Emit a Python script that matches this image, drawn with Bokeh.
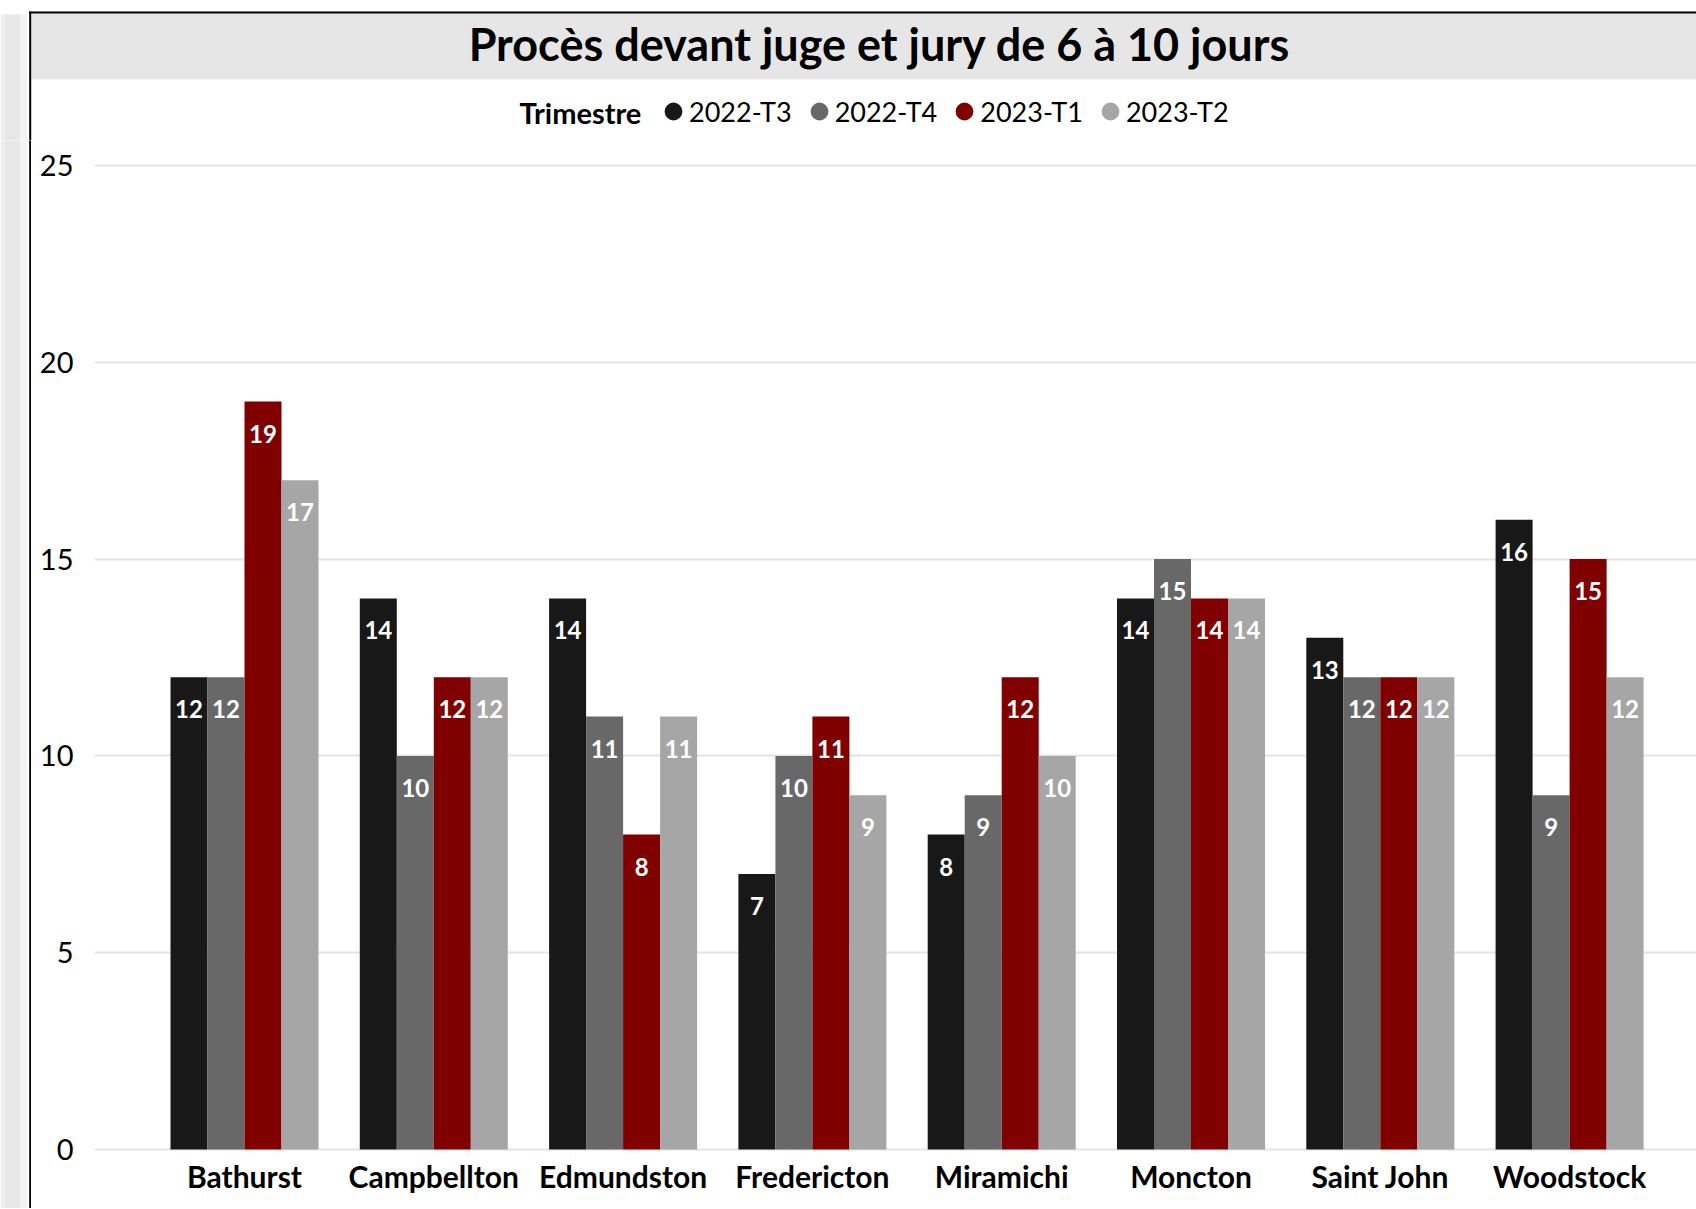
from bokeh.plotting import figure
from bokeh.layouts import column, row
from bokeh.models import (ColumnDataSource, Range1d, FixedTicker, Legend, LegendItem, Label)
from bokeh.transform import dodge
from bokeh.core.properties import value
from bokeh.embed import file_html
from bokeh.resources import INLINE

# ---------------- data ----------------
chart_title = "Procès devant juge et jury de 6 à 10 jours"
legend_title = "Trimestre"
cities = ["Bathurst", "Campbellton", "Edmundston", "Fredericton",
          "Miramichi", "Moncton", "Saint John", "Woodstock"]
series = ["2022-T3", "2022-T4", "2023-T1", "2023-T2"]
v_2022_t3 = [12, 14, 14, 7, 8, 14, 13, 16]
v_2022_t4 = [12, 10, 11, 10, 9, 15, 12, 9]
v_2023_t1 = [19, 12, 8, 11, 12, 14, 12, 15]
v_2023_t2 = [17, 12, 11, 9, 10, 14, 12, 12]
y_ticks = [0, 5, 10, 15, 20, 25]

# ---------------- style / layout ----------------
colors = ["#181818", "#686868", "#800000", "#a6a6a6"]
FONT = "Lato"
W, H = 1696, 1208
HH = 140                 # header height
LW = 31                  # left decoration strip width
MW, MH = W - LW, H - HH  # main chart size
FRAME_LEFT = 94          # page x of plot frame left
CAT_PX = 189.3
FIRST_CENTER = 244.0
BAR_W = 37.0 / CAT_PX
STRIP = [(0, 4, "#eeeeee"), (4, 20, "#e7e7e7"), (20, 26.5, "#f3f3f3")]


def deco_figure(w, h):
    f = figure(width=w, height=h, output_backend="svg", toolbar_location=None,
               x_range=Range1d(0, w), y_range=Range1d(h, 0),
               x_axis_location=None, y_axis_location=None,
               min_border=0, min_border_left=0, min_border_right=0,
               min_border_top=0, min_border_bottom=0)
    f.grid.visible = False
    f.outline_line_color = None
    f.background_fill_color = "white"
    f.border_fill_color = "white"
    f.frame_align = False
    return f


# ---------- header: title band, border, legend ----------
hdr = deco_figure(W, HH)
for l, r, c in STRIP:
    hdr.quad(left=l, right=r, top=14, bottom=HH + 1, fill_color=c, line_color=None)
hdr.quad(left=30.7, right=W, top=13, bottom=78.7, fill_color="#e6e6e6", line_color=None)
hdr.quad(left=28.7, right=W, top=11, bottom=13, fill_color="black", line_color=None)
hdr.quad(left=28.7, right=30.7, top=11, bottom=HH + 1, fill_color="black", line_color=None)

hdr.add_layout(Label(x=879, y=43.5, text=chart_title, text_align="center",
                     text_baseline="middle", text_font=FONT, text_font_size="45px",
                     text_font_style="bold", text_color="#000000"))
hdr.add_layout(Label(x=519, y=111.7, text=legend_title, text_align="left",
                     text_baseline="middle", text_font=FONT, text_font_size="29px",
                     text_font_style="bold", text_color="#000000"))

items = []
for i, s in enumerate(series):
    # a single off-canvas point so that the legend glyph has a colour
    r = hdr.scatter(x=[-500], y=[-500], marker="circle", fill_color=colors[i],
                    line_color=colors[i], line_width=5, size=18)
    items.append(LegendItem(label=s, renderers=[r]))
GLYPH = 32
legend = Legend(items=items, orientation="horizontal",
                location=(673 - GLYPH / 2, HH - 111.7 - GLYPH / 2),
                glyph_width=GLYPH, glyph_height=GLYPH, label_standoff=0,
                spacing=11, padding=0, margin=0,
                label_text_font=FONT, label_text_font_size="27px",
                label_text_color="#000000", label_text_baseline="middle",
                border_line_color=None, background_fill_alpha=0)
hdr.add_layout(legend)

# ---------- left decoration strip ----------
left = deco_figure(LW, MH)
for l, r, c in STRIP:
    left.quad(left=l, right=r, top=-1, bottom=MH, fill_color=c, line_color=None)
left.quad(left=28.7, right=30.7, top=-1, bottom=MH, fill_color="black", line_color=None)

# ---------- main chart ----------
all_values = [v_2022_t3, v_2022_t4, v_2023_t1, v_2023_t2]
positions = list(range(len(cities)))
data = {"x": positions}
for i, vals in enumerate(all_values):
    data[f"v{i}"] = vals
    data[f"l{i}"] = [str(v) for v in vals]
source = ColumnDataSource(data)

x_start = (FRAME_LEFT - FIRST_CENTER) / CAT_PX
x_end = (W - FIRST_CENTER) / CAT_PX

p = figure(width=MW, height=MH, output_backend="svg", toolbar_location=None,
           x_range=Range1d(x_start, x_end), y_range=Range1d(-0.15, 25.3),
           min_border_left=FRAME_LEFT - LW, min_border_right=0, min_border_top=13,
           min_border_bottom=MH - 13 - 1002)
p.outline_line_color = None
p.background_fill_color = "white"
p.border_fill_color = "white"
p.frame_align = False

for i, s in enumerate(series):
    off = (i - 1.5) * BAR_W
    p.vbar(x=dodge("x", off), top=f"v{i}", width=BAR_W, bottom=0,
           source=source, fill_color=colors[i], line_color=None)
    p.text(x=dodge("x", off), y=f"v{i}", text=f"l{i}", source=source,
           text_align="center", text_baseline="middle", y_offset=32,
           text_color="white", text_font=value(FONT), text_font_size="24px",
           text_font_style="bold")

p.xaxis.ticker = FixedTicker(ticks=positions)
p.xaxis.major_label_overrides = {i: c for i, c in enumerate(cities)}
p.xaxis.major_label_text_font = FONT
p.xaxis.major_label_text_font_size = "30px"
p.xaxis.major_label_text_font_style = "bold"
p.xaxis.major_label_text_color = "#000000"
p.xaxis.major_label_standoff = 2
p.xaxis.major_tick_out = 0
p.xaxis.major_tick_in = 0
p.xaxis.axis_line_color = None
p.xaxis.major_tick_line_color = None
p.xaxis.minor_tick_line_color = None

p.yaxis.ticker = FixedTicker(ticks=y_ticks)
p.yaxis.major_label_text_font = FONT
p.yaxis.major_label_text_font_size = "29px"
p.yaxis.major_label_text_color = "#000000"
p.yaxis.major_label_standoff = 21
p.yaxis.major_tick_out = 0
p.yaxis.major_tick_in = 0
p.yaxis.axis_line_color = None
p.yaxis.major_tick_line_color = None
p.yaxis.minor_tick_line_color = None

p.xgrid.grid_line_color = None
p.ygrid.grid_line_color = "#e4e4e4"
p.ygrid.grid_line_width = 2

layout = column(hdr, row(left, p, spacing=0), spacing=0)
open("out.html", "w").write(file_html(layout, INLINE))
